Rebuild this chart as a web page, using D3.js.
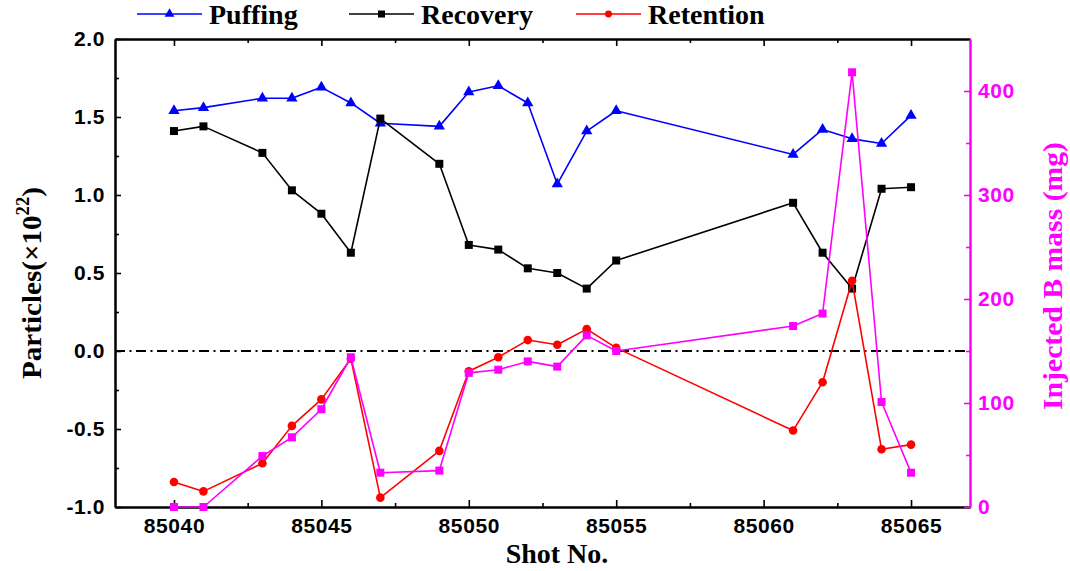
<!DOCTYPE html>
<html>
<head>
<meta charset="utf-8">
<script src="https://cdn.jsdelivr.net/npm/d3@7/dist/d3.min.js"></script>
<style>
  html, body { margin: 0; padding: 0; background: #fff; }
  svg { display: block; }
  .tick text { font-family: "Liberation Sans", Arial, sans-serif; font-weight: bold; font-size: 21px; letter-spacing: 0.6px; }
  .serif { font-family: "Liberation Serif", "Times New Roman", serif; font-weight: bold; }
</style>
</head>
<body>
<svg id="chart" width="1070" height="571"></svg>
<script>
// Shot numbers and measured quantities per shot
const shots = [85040, 85041, 85043, 85044, 85045, 85046, 85047, 85049, 85050, 85051,
               85052, 85053, 85054, 85055, 85061, 85062, 85063, 85064, 85065];
// Particles (×10^22)
const puffing   = [1.54, 1.56, 1.62, 1.62, 1.69, 1.59, 1.46, 1.44, 1.66, 1.70,
                   1.59, 1.07, 1.41, 1.54, 1.26, 1.42, 1.36, 1.33, 1.51];
const recovery  = [1.41, 1.44, 1.27, 1.03, 0.88, 0.63, 1.49, 1.20, 0.68, 0.65,
                   0.53, 0.50, 0.40, 0.58, 0.95, 0.63, 0.40, 1.04, 1.05];
const retention = [-0.84, -0.90, -0.72, -0.48, -0.31, -0.05, -0.94, -0.64, -0.13, -0.04,
                   0.07, 0.04, 0.14, 0.02, -0.51, -0.20, 0.45, -0.63, -0.60];
// Injected boron mass (mg), right axis
const boronMass = [0, 0, 49, 67, 94, 144, 33, 35, 129, 132,
                   140, 135, 165, 150, 174, 186, 418, 101, 33];

// Axis ticks
const xMajorTicks = [85040, 85045, 85050, 85055, 85060, 85065];
const xMinorTicks = [85042.5, 85047.5, 85052.5, 85057.5, 85062.5];
const yLeftMajor  = [-1.0, -0.5, 0.0, 0.5, 1.0, 1.5, 2.0];
const yLeftMinor  = [-0.75, -0.25, 0.25, 0.75, 1.25, 1.75];
const yRightMajor = [0, 100, 200, 300, 400];
const yRightMinor = [50, 150, 250, 350];

const legendItems = [
  { name: "Puffing",   color: "#0000ff", symbol: d3.symbolTriangle, size: 42 },
  { name: "Recovery",  color: "#000000", symbol: d3.symbolSquare,   size: 49 },
  { name: "Retention", color: "#ff0000", symbol: d3.symbolCircle,   size: 38 }
];

const svg = d3.select("#chart");
const L = 115, R = 970, T = 39, B = 507;

const x  = d3.scaleLinear().domain([85038, 85067]).range([L, R]);
const yL = d3.scaleLinear().domain([-1, 2]).range([B, T]);
const yR = d3.scaleLinear().domain([0, 450]).range([B, T]);

const magenta = "#ff00ff";

// zero reference line (dash-dot)
svg.append("line")
  .attr("x1", L).attr("x2", R)
  .attr("y1", yL(0)).attr("y2", yL(0))
  .attr("stroke", "#000").attr("stroke-width", 1.8)
  .attr("stroke-dasharray", "10,4.5,2,4.5");

function styleAxis(g, color) {
  g.selectAll(".domain").attr("stroke", color).attr("stroke-width", 2);
  g.selectAll(".tick line").attr("stroke", color).attr("stroke-width", 1.6);
  g.selectAll(".tick text").attr("fill", color);
}

// bottom axis
svg.append("g").attr("transform", `translate(0,${B})`)
  .call(d3.axisBottom(x).tickValues(xMajorTicks).tickFormat(d3.format("d"))
        .tickSize(-7).tickSizeOuter(0).tickPadding(11))
  .call(g => styleAxis(g, "#000"));
svg.append("g").attr("transform", `translate(0,${B})`)
  .call(d3.axisBottom(x).tickValues(xMinorTicks).tickFormat("").tickSize(-4).tickSizeOuter(0))
  .call(g => styleAxis(g, "#000"));

// top axis (ticks only)
svg.append("g").attr("transform", `translate(0,${T})`)
  .call(d3.axisTop(x).tickValues(xMajorTicks).tickFormat("").tickSize(-7).tickSizeOuter(0))
  .call(g => styleAxis(g, "#000"));
svg.append("g").attr("transform", `translate(0,${T})`)
  .call(d3.axisTop(x).tickValues(xMinorTicks).tickFormat("").tickSize(-4).tickSizeOuter(0))
  .call(g => styleAxis(g, "#000"));

// left axis
svg.append("g").attr("transform", `translate(${L},0)`)
  .call(d3.axisLeft(yL).tickValues(yLeftMajor).tickFormat(d3.format(".1f"))
        .tickSize(-6).tickSizeOuter(0).tickPadding(10))
  .call(g => styleAxis(g, "#000"))
  .call(g => g.selectAll(".tick text").text(d => d3.format(".1f")(d).replace("\u2212", "-")));
svg.append("g").attr("transform", `translate(${L},0)`)
  .call(d3.axisLeft(yL).tickValues(yLeftMinor).tickFormat("").tickSize(-4).tickSizeOuter(0))
  .call(g => styleAxis(g, "#000"));

// right axis (boron mass)
svg.append("g").attr("transform", `translate(${R},0)`)
  .call(d3.axisRight(yR).tickValues(yRightMajor).tickFormat(d3.format("d"))
        .tickSize(-6).tickSizeOuter(0).tickPadding(8))
  .call(g => styleAxis(g, magenta));
svg.append("g").attr("transform", `translate(${R},0)`)
  .call(d3.axisRight(yR).tickValues(yRightMinor).tickFormat("").tickSize(-4).tickSizeOuter(0))
  .call(g => styleAxis(g, magenta));

// series
function drawSeries(values, yScale, color, symbol, size) {
  const pts = shots.map((s, i) => [s, values[i]]);
  const line = d3.line().x(d => x(d[0])).y(d => yScale(d[1]));
  svg.append("path").datum(pts)
    .attr("d", line).attr("fill", "none")
    .attr("stroke", color).attr("stroke-width", 1.6).attr("stroke-linejoin", "round");
  svg.append("g").selectAll("path").data(pts).join("path")
    .attr("d", d3.symbol().type(symbol).size(size))
    .attr("transform", d => `translate(${x(d[0])},${yScale(d[1])})`)
    .attr("fill", color);
}
drawSeries(puffing,   yL, "#0000ff", d3.symbolTriangle, 55);
drawSeries(recovery,  yL, "#000000", d3.symbolSquare,   64);
drawSeries(retention, yL, "#ff0000", d3.symbolCircle,   58);
drawSeries(boronMass, yR, magenta,   d3.symbolSquare,   64);

// legend
const legendX = [137, 349, 576];
legendItems.forEach((item, i) => {
  const x0 = legendX[i];
  svg.append("line").attr("x1", x0).attr("x2", x0 + 65).attr("y1", 14).attr("y2", 14)
    .attr("stroke", item.color).attr("stroke-width", 1.6);
  svg.append("path").attr("d", d3.symbol().type(item.symbol).size(item.size))
    .attr("transform", `translate(${x0 + 32.5},14)`).attr("fill", item.color);
  svg.append("text").attr("class", "serif")
    .attr("x", x0 + 72).attr("y", 24).attr("font-size", 28).attr("fill", "#000")
    .text(item.name);
});

// axis titles
svg.append("text").attr("class", "serif")
  .attr("x", 557).attr("y", 563).attr("text-anchor", "middle")
  .attr("font-size", 28).text("Shot No.");

const yTitle = svg.append("text").attr("class", "serif")
  .attr("transform", "translate(41,283) rotate(-90)")
  .attr("text-anchor", "middle").attr("font-size", 28)
  .attr("textLength", 192).attr("lengthAdjust", "spacingAndGlyphs");
yTitle.append("tspan").text("Particles(\u00d710");
yTitle.append("tspan").attr("font-size", 18).attr("dy", -12).text("22");
yTitle.append("tspan").attr("dy", 12).text(")");

svg.append("text").attr("class", "serif")
  .attr("transform", "translate(1062,276) rotate(-90)")
  .attr("text-anchor", "middle").attr("font-size", 27).attr("fill", magenta)
  .attr("textLength", 268).attr("lengthAdjust", "spacingAndGlyphs")
  .text("Injected B mass (mg)");
</script>
</body>
</html>
